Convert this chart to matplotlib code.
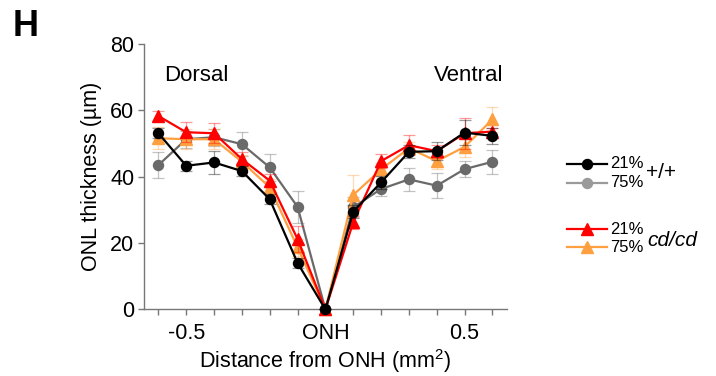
import matplotlib
matplotlib.use("Agg")
import matplotlib.pyplot as plt
from matplotlib.lines import Line2D
import numpy as np

plt.rcParams['font.family'] = ['Liberation Sans', 'DejaVu Sans']
plt.rcParams['mathtext.fontset'] = 'custom'
plt.rcParams['mathtext.rm'] = 'Liberation Sans'
plt.rcParams['mathtext.it'] = 'Liberation Sans:italic'

# Data
positions = [-0.6, -0.5, -0.4, -0.3, -0.2, -0.1, 0.0, 0.1, 0.2, 0.3, 0.4, 0.5, 0.6]
wt_21 = [53.1, 43.3, 44.3, 41.7, 33.2, 14.0, 0, 29.5, 38.3, 47.5, 47.7, 53.3, 52.3]
wt_21_err = [1.5, 1.5, 3.4, 1.5, 1.5, 1.5, 0, 2.0, 2.0, 2.0, 2.8, 3.8, 2.4]
wt_75 = [43.5, 51.3, 51.9, 49.8, 42.8, 30.9, 0, 30.8, 36.3, 39.2, 37.3, 42.3, 44.5]
wt_75_err = [4.0, 2.5, 2.5, 3.6, 4.0, 4.8, 0, 3.0, 2.0, 3.5, 3.7, 2.4, 3.7]
cd_21 = [58.3, 53.4, 53.1, 45.3, 38.8, 21.2, 0, 26.3, 44.7, 49.5, 47.7, 53.1, 53.6]
cd_21_err = [1.5, 3.0, 3.0, 2.0, 2.0, 4.0, 0, 2.0, 2.0, 3.0, 2.0, 4.7, 1.2]
cd_75 = [51.6, 51.3, 51.3, 44.5, 36.8, 18.7, 0, 34.5, 42.2, 48.6, 44.7, 49.0, 57.3]
cd_75_err = [3.3, 3.0, 3.0, 2.0, 2.5, 2.5, 0, 6.0, 2.0, 2.0, 2.5, 3.0, 3.8]

xtick_pos = [-0.5, 0.0, 0.5]
xtick_labels = ['-0.5', 'ONH', '0.5']
yticks = [0, 20, 40, 60, 80]

fig = plt.figure(figsize=(7.16, 3.76), dpi=100)
ax = fig.add_axes([0.201, 0.177, 0.507, 0.706])

series = [
    (wt_75, wt_75_err, '#6a6a6a', 'o', 7.2, 2),
    (cd_75, cd_75_err, '#ffa040', '^', 8.0, 3),
    (cd_21, cd_21_err, '#ff0000', '^', 8.0, 4),
    (wt_21, wt_21_err, '#000000', 'o', 7.2, 5),
]
for vals, err, col, mk, ms, z in series:
    ax.errorbar(positions, vals, yerr=err, fmt='none', ecolor=col, alpha=0.4,
                elinewidth=0.9, capsize=4, capthick=0.9, zorder=z - 0.5, clip_on=False)
    ax.plot(positions, vals, color=col, marker=mk, markersize=ms, linewidth=1.6,
            zorder=z, clip_on=False)

ax.set_xlim(-0.652, 0.652)
ax.set_ylim(0, 80)
ax.set_yticks(yticks)
ax.set_xticks(positions, minor=False)
ax.set_xticklabels([xtick_labels[xtick_pos.index(p)] if p in xtick_pos else '' for p in positions])
for s in ['top', 'right']:
    ax.spines[s].set_visible(False)
for s in ['left', 'bottom']:
    ax.spines[s].set_color('#777777')
    ax.spines[s].set_linewidth(1.0)
ax.tick_params(axis='both', direction='out', length=4, width=1.0, color='#777777',
               labelsize=15.5, pad=3)
ax.tick_params(axis='x', pad=6)
ax.set_ylabel('ONL thickness (µm)', fontsize=15.5, labelpad=6)
ax.set_xlabel('Distance from ONH (mm$^\\mathregular{2}$)', fontsize=15.5, labelpad=2)

ax.text(-0.578, 70.6, 'Dorsal', fontsize=16, ha='left', va='center')
ax.text(0.64, 70.6, 'Ventral', fontsize=16, ha='right', va='center')

fig.text(13 / 716, 1 - 27 / 376, 'H', fontsize=26, fontweight='bold', ha='left', va='center')

# Legend
W, H = 716, 376
rows = [
    (164, '#000000', 'o', 7.2, '21%'),
    (182.7, '#9a9a9a', 'o', 7.2, '75%'),
    (229.3, '#ff0000', '^', 8.0, '21%'),
    (247.3, '#ffa040', '^', 8.0, '75%'),
]
for y, col, mk, ms, lab in rows:
    yf = 1 - y / H
    ln = Line2D([567 / W, 587 / W, 607 / W], [yf, yf, yf], color=col, lw=1.6,
                marker=mk, markersize=ms, markevery=[1], transform=fig.transFigure)
    fig.add_artist(ln)
    fig.text(610 / W, yf, lab, fontsize=12, ha='left', va='center')
fig.text(646 / W, 1 - 173 / H, '+/+', fontsize=15, ha='left', va='center')
fig.text(647 / W, 1 - 240 / H, 'cd/cd', fontsize=15, style='italic', ha='left', va='center')

fig.savefig('out.png', dpi=100)
